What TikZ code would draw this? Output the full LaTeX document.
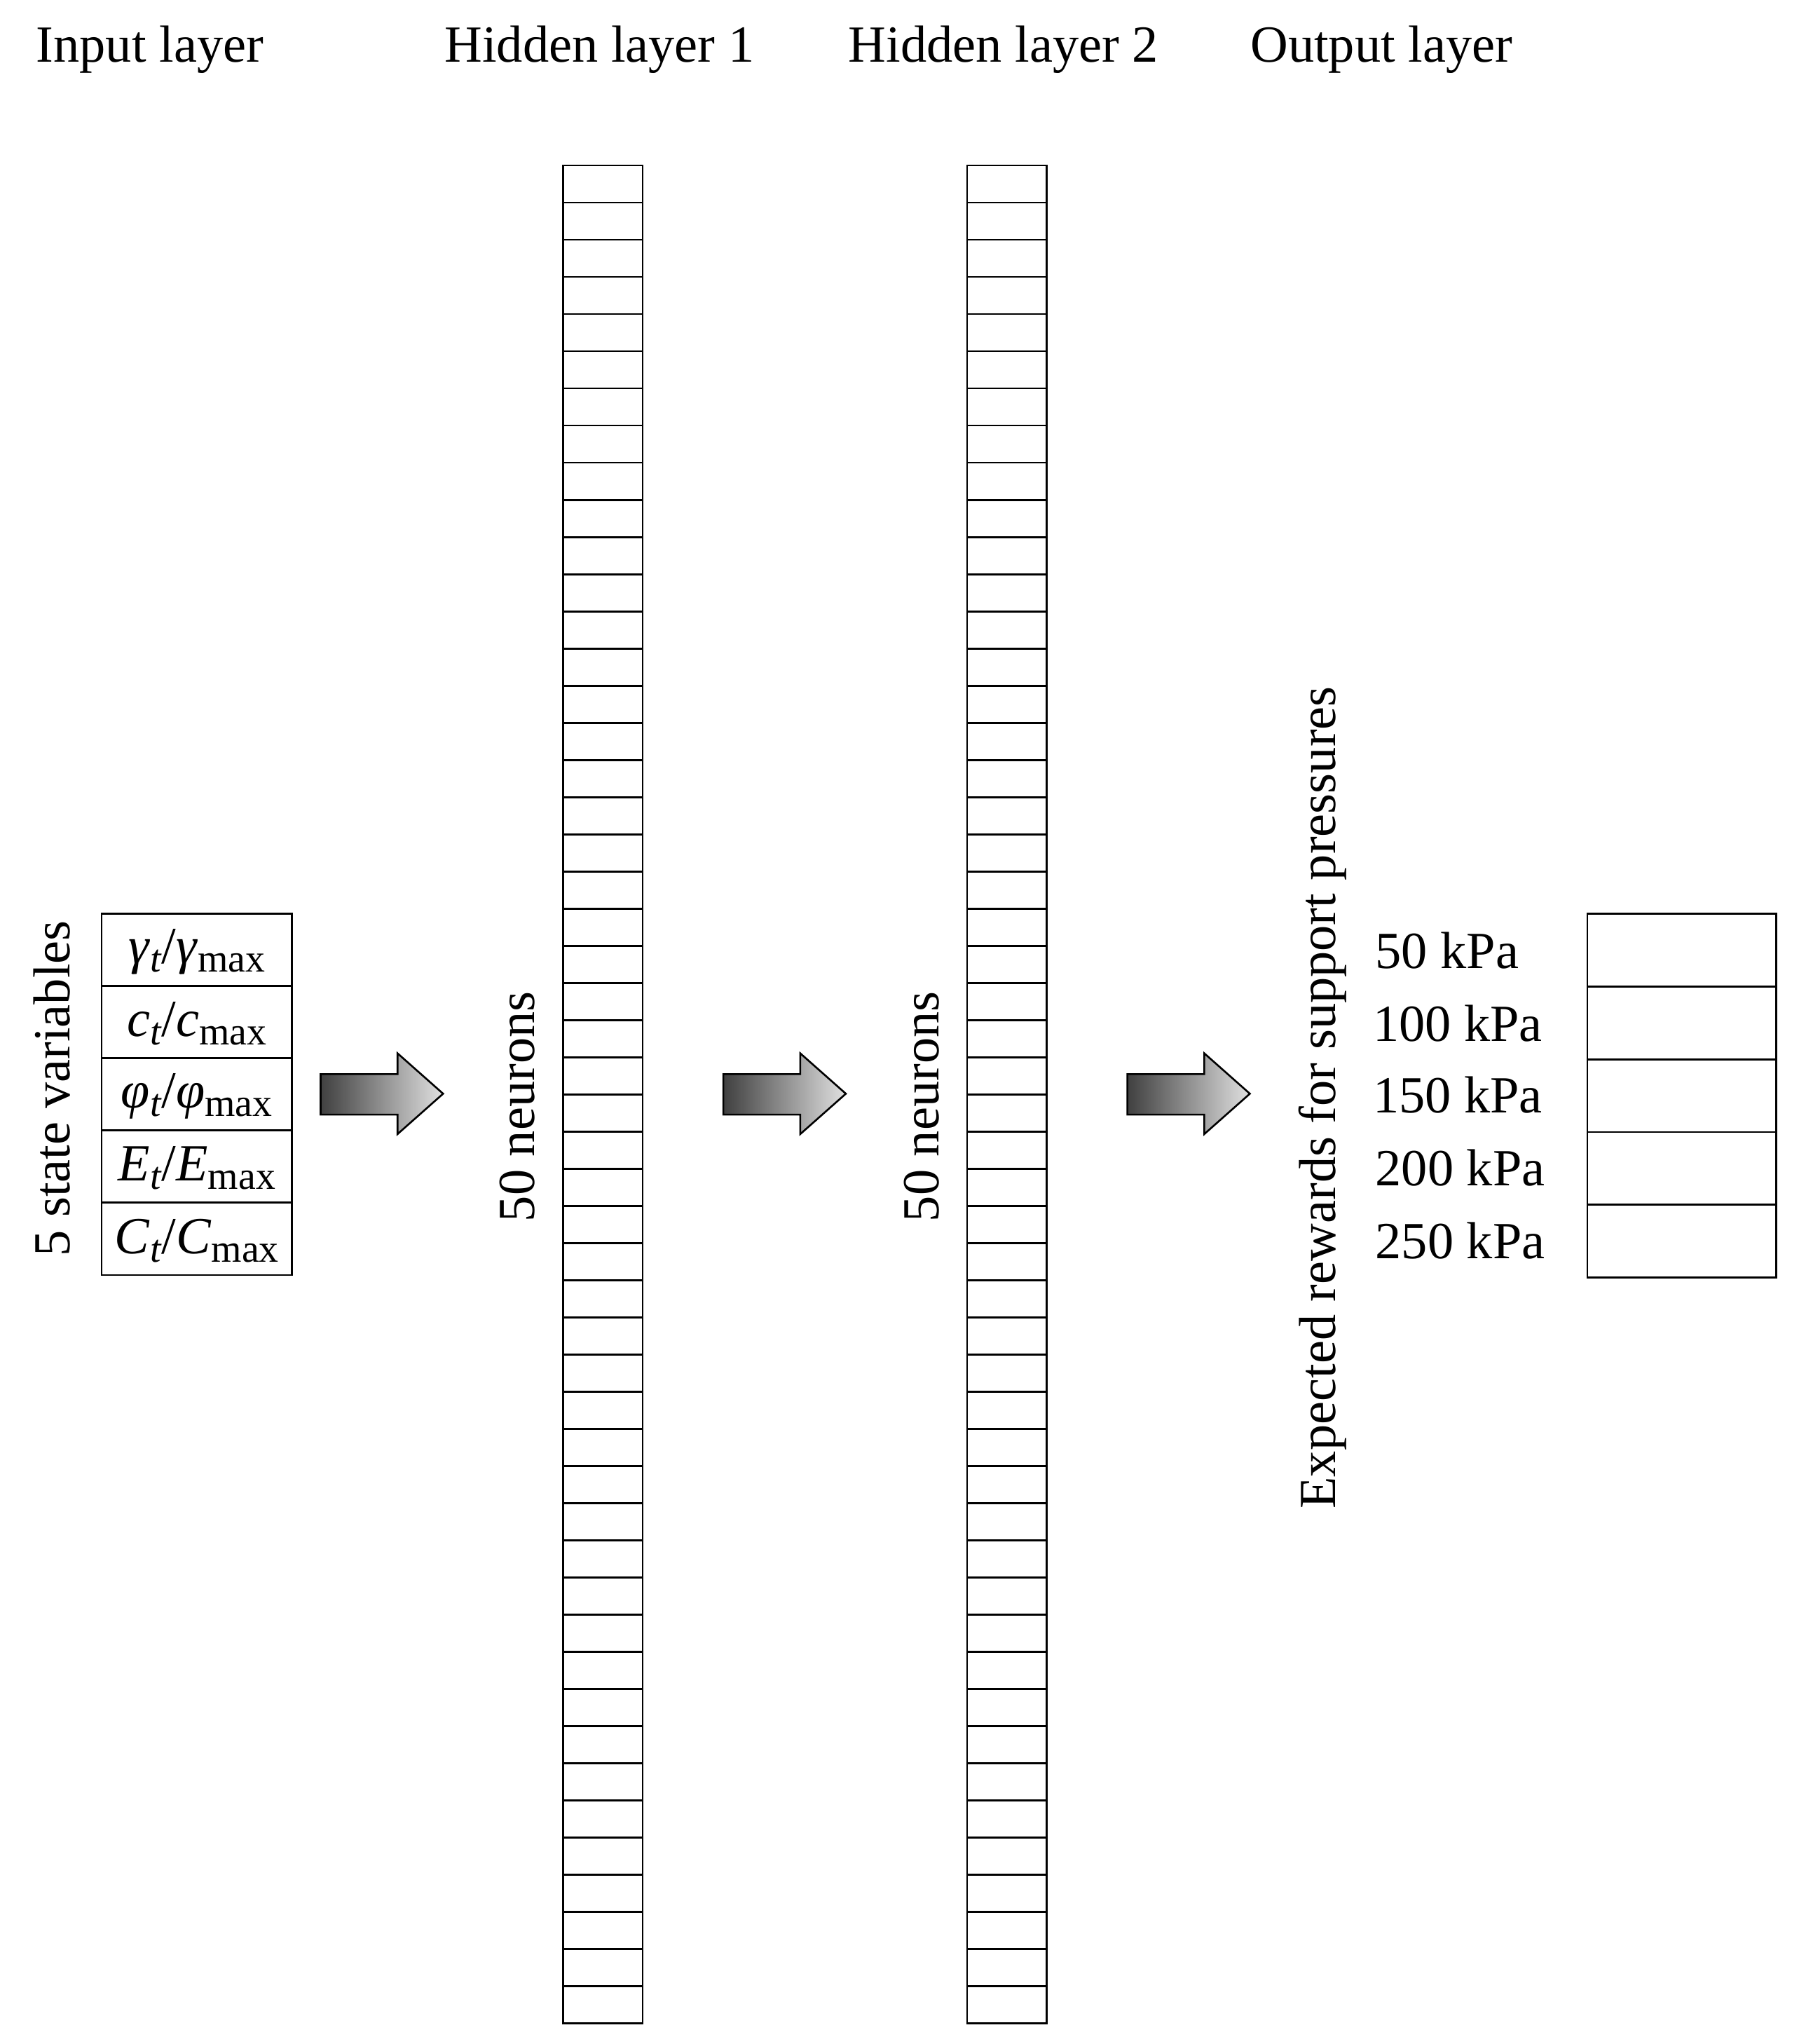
\documentclass[tikz,border=0pt]{standalone}
\usepackage{fontspec}
\setmainfont{Liberation Serif}
\begin{document}
\begin{tikzpicture}[x=0.5pt,y=-0.5pt,
  lbl/.style={font=\fontsize{20}{22}\selectfont, inner sep=0pt},
  cellbox/.style={draw, line width=0.7pt},
  garrow/.style={draw, line width=0.7pt, left color=black!75, right color=black!12}]
\useasboundingbox (0,0) rectangle (1380,1568);
\newcommand{\mysub}[1]{\raisebox{-0.35ex}{\fontsize{15}{15}\selectfont #1}}
% titles
\node[lbl] (t1) at (115,38) {Input layer};
\node[lbl] (t2) at (460,38) {Hidden layer 1};
\node[lbl] (t3) at (770,38) {Hidden layer 2};
\node[lbl] (t4) at (1060,38) {Output layer};
% hidden layers
\foreach \xx in {432,742}{
  \foreach \i in {0,...,49}{
    \draw[cellbox] (\xx,{127+\i*28.5}) rectangle ({\xx+61},{127+(\i+1)*28.5});
  }
}
% input
\foreach \i in {0,...,4}{
  \draw[cellbox] (78,{701+\i*55.4}) rectangle (224,{701+(\i+1)*55.4});
}
\node[lbl] (i1) at (151,730) {\textit{γ}\mysub{\textit{t}}/\textit{γ}\mysub{max}};
\node[lbl] (i2) at (151,785) {\textit{c}\mysub{\textit{t}}/\textit{c}\mysub{max}};
\node[lbl] (i3) at (151,841) {\textit{φ}\mysub{\textit{t}}/\textit{φ}\mysub{max}};
\node[lbl] (i4) at (151,896) {\textit{E}\mysub{\textit{t}}/\textit{E}\mysub{max}};
\node[lbl] (i5) at (151,952) {\textit{C}\mysub{\textit{t}}/\textit{C}\mysub{max}};
% output
\foreach \i in {0,...,4}{
  \draw[cellbox] (1218,{701+\i*55.8}) rectangle (1363,{701+(\i+1)*55.8});
}
\node[lbl,anchor=west] (o1) at (1055,729) {50 kPa};
\node[lbl,anchor=west] (o2) at (1053,785) {100 kPa};
\node[lbl,anchor=west] (o3) at (1053,840) {150 kPa};
\node[lbl,anchor=west] (o4) at (1055,896) {200 kPa};
\node[lbl,anchor=west] (o5) at (1055,952) {250 kPa};
% rotated labels
\node[lbl,rotate=90] (r1) at (40,835) {5 state variables};
\node[lbl,rotate=90] (r2) at (397,849) {50 neurons};
\node[lbl,rotate=90] (r3) at (707,849) {50 neurons};
\node[lbl,rotate=90] (r4) at (1015,842) {Expected rewards for support pressures};
% arrows
\foreach \xa in {246,555,865}{
  \draw[garrow] (\xa,824) -- ({\xa+59},824) -- ({\xa+59},808) -- ({\xa+94},839)
    -- ({\xa+59},870) -- ({\xa+59},855) -- (\xa,855) -- cycle;
}
\end{tikzpicture}
\end{document}
